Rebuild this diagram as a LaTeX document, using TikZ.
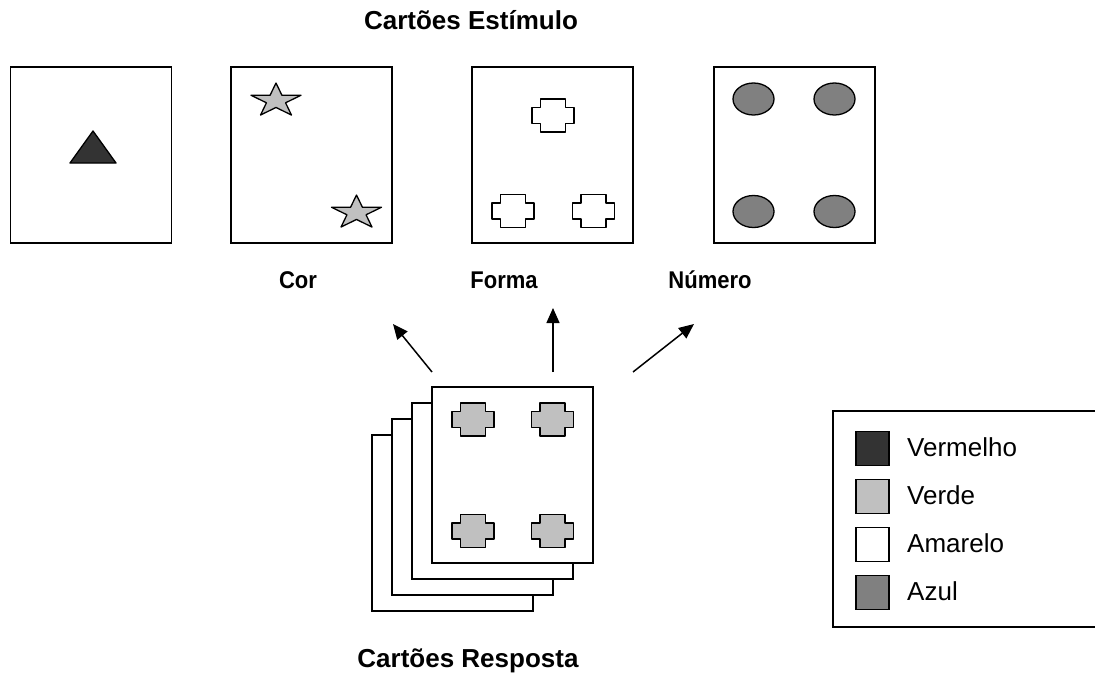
\documentclass[tikz,border=0pt]{standalone}
\usepackage{fontspec}
\setmainfont{Liberation Sans}
\usetikzlibrary{arrows.meta}
\definecolor{darkfill}{HTML}{333333}
\definecolor{lightfill}{HTML}{C0C0C0}
\definecolor{midfill}{HTML}{808080}
\tikzset{
  card/.style={draw, line width=1.5pt, fill=white, minimum width=161pt, minimum height=176pt, inner sep=0pt},
  shapeline/.style={draw, line width=1.3pt, line join=round},
  heading/.style={font=\bfseries\fontsize{26}{30}\selectfont, inner sep=0pt, anchor=base},
  sublabel/.style={font=\bfseries\fontsize{22}{26}\selectfont, inner sep=0pt, anchor=base, yscale=1.1},
  legtext/.style={font=\fontsize{26}{30}\selectfont, inner sep=0pt, anchor=base west},
  swatch/.style={draw, line width=1.3pt, minimum width=33pt, minimum height=34pt, inner sep=0pt},
  arrowline/.style={line width=1.5pt, -{Triangle[length=15pt,width=13pt]}},
  plusshape/.pic={
    \path[pic actions] (-12.5,-16.5) -- (12.5,-16.5) -- (12.5,-8) -- (21,-8) -- (21,8) -- (12.5,8)
      -- (12.5,16.5) -- (-12.5,16.5) -- (-12.5,8) -- (-21,8) -- (-21,-8) -- (-12.5,-8) -- cycle;
  },
  starshape/.pic={
    \path[pic actions] (0,-17.7) -- (-5.91,-5.47) -- (-25.01,-5.47) -- (-9.56,2.09) -- (-15.46,14.32)
      -- (0,6.76) -- (15.46,14.32) -- (9.56,2.09) -- (25.01,-5.47) -- (5.91,-5.47) -- cycle;
  }
}
\begin{document}
\begin{tikzpicture}[x=1pt, y=-1pt]
\clip (0,0) rectangle (1095,675);
\fill[white] (0,0) rectangle (1095,675);

% title
\node[heading] (title) at (471,29) {Cartões Estímulo};

% stimulus cards
\node[card] (c1) at (91,155) {};
\node[card] (c2) at (311.5,155) {};
\node[card] (c3) at (552.5,155) {};
\node[card] (c4) at (794.5,155) {};

% card 1: triangle
\draw[shapeline, fill=darkfill] (93,131) -- (116,163) -- (70,163) -- cycle;

% card 2: stars
\pic[shapeline, fill=lightfill] at (276,100.7) {starshape};
\pic[shapeline, fill=lightfill] at (356.5,212.7) {starshape};

% card 3: crosses
\pic[shapeline, fill=white] at (553,115.5) {plusshape};
\pic[shapeline, fill=white] at (513,211) {plusshape};
\pic[shapeline, fill=white] at (593.5,211) {plusshape};

% card 4: ellipses
\foreach \ex/\ey in {753.5/99, 834.5/99, 753.5/211.5, 834.5/211.5}{
  \draw[shapeline, fill=midfill] (\ex,\ey) ellipse [x radius=20.5, y radius=16];
}

% labels
\node[sublabel] (lcor) at (298,288) {Cor};
\node[sublabel] (lforma) at (504,288) {Forma};
\node[sublabel] (lnum) at (710,288) {Número};

% arrows
\coordinate (a1s) at (432,372); \coordinate (a1e) at (393,324);
\coordinate (a2s) at (553,372); \coordinate (a2e) at (553,308);
\coordinate (a3s) at (633,372); \coordinate (a3e) at (694,324);
\draw[arrowline] (a1s) -- (a1e);
\draw[arrowline] (a2s) -- (a2e);
\draw[arrowline] (a3s) -- (a3e);

% response cards stack
\node[card] (r4) at (452.5,523) {};
\node[card] (r3) at (472.5,507) {};
\node[card] (r2) at (492.5,491) {};
\node[card] (r1) at (512.5,475) {};
\pic[shapeline, fill=lightfill] at (473,419.5) {plusshape};
\pic[shapeline, fill=lightfill] at (552.5,419.5) {plusshape};
\pic[shapeline, fill=lightfill] at (473,531) {plusshape};
\pic[shapeline, fill=lightfill] at (552.5,531) {plusshape};

\node[heading] (resp) at (468,667) {Cartões Resposta};

% legend
\node[draw, line width=1.5pt, anchor=north west, minimum width=280pt, minimum height=216pt, inner sep=0pt] (legend) at (832,410) {};
\node[swatch, fill=darkfill] (s1) at (872.5,448.5) {};
\node[swatch, fill=lightfill] (s2) at (872.5,496.5) {};
\node[swatch, fill=white] (s3) at (872.5,544.5) {};
\node[swatch, fill=midfill] (s4) at (872.5,592.5) {};
\node[legtext] (t1) at (907,456) {Vermelho};
\node[legtext] (t2) at (907,504) {Verde};
\node[legtext] (t3) at (907,552) {Amarelo};
\node[legtext] (t4) at (907,600) {Azul};
\end{tikzpicture}
\end{document}
